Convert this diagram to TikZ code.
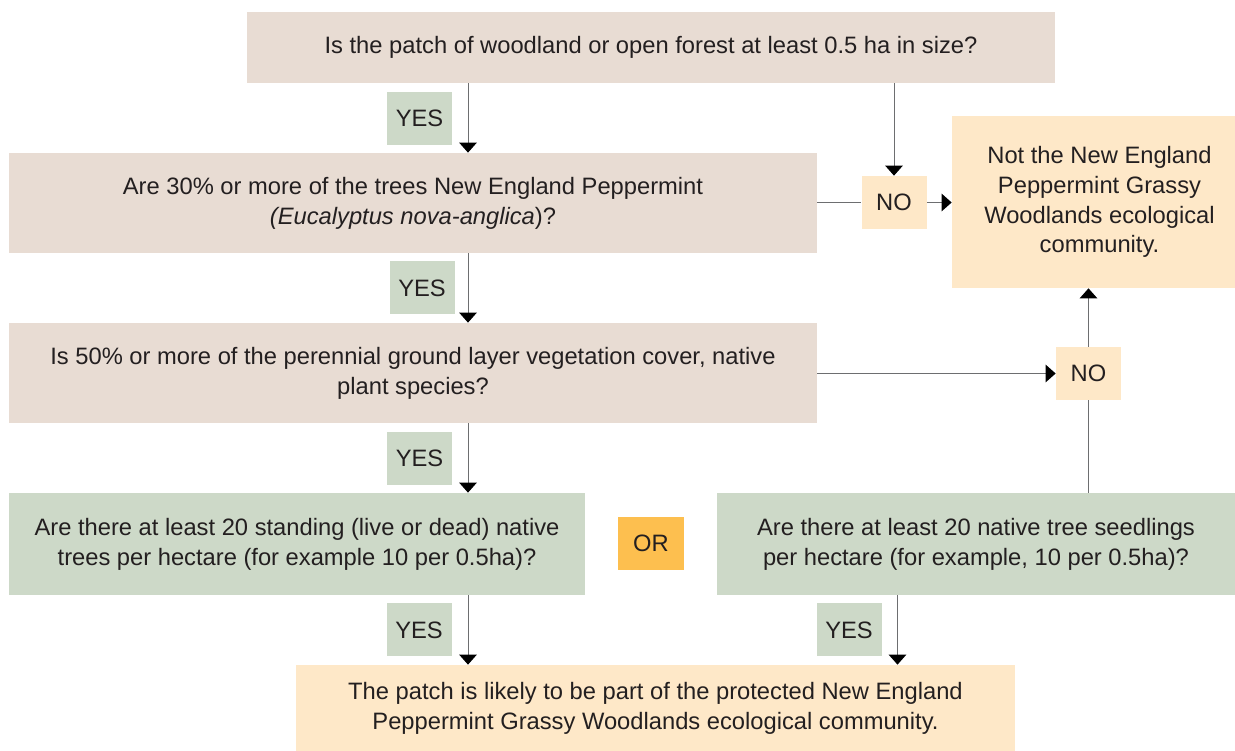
\documentclass[tikz,border=0pt]{standalone}
\usepackage{fontspec}
\setmainfont{Liberation Sans}
\usepackage{tikz}
\usetikzlibrary{positioning, calc, arrows.meta}

\definecolor{qbeige}{HTML}{E8DCD3}
\definecolor{qgreen}{HTML}{CDD9C8}
\definecolor{qcream}{HTML}{FEE8C8}
\definecolor{qorange}{HTML}{FDBF4F}
\definecolor{qline}{HTML}{6D6E70}
\definecolor{qtext}{HTML}{231F20}

\begin{document}
\begin{tikzpicture}[
        every node/.style={rectangle, draw=none, inner sep=0pt, align=center,
            text=qtext, font=\fontsize{13.5}{17}\selectfont},
        question/.style={fill=qbeige, minimum width=16.16cm, minimum height=2cm},
        criterion/.style={fill=qgreen, minimum height=2.04cm},
        result/.style={fill=qcream},
        yes/.style={fill=qgreen, minimum width=1.3cm, minimum height=1.06cm},
        no/.style={fill=qcream, minimum width=1.3cm, minimum height=1.06cm},
        link/.style={draw=qline, line width=0.55pt},
        arr/.style={link, -{Triangle[width=0.35cm, length=0.2cm, color=black]}}
    ]
    \useasboundingbox (0,0) rectangle (24.7,-15.02);

    % Questions
    \node[question, minimum height=1.42cm] (Q1) at (13.02,-0.95)
        {Is the patch of woodland or open forest at least 0.5 ha in size?};
    \node[question] (Q2) at (8.26,-4.06)
        {Are 30\% or more of the trees New England Peppermint\\
         {\itshape (Eucalyptus nova-anglica\/})?};
    \node[question] (Q3) at (8.26,-7.46)
        {Is 50\% or more of the perennial ground layer vegetation cover, native\\
         plant species?};
    \node[criterion, minimum width=11.52cm] (Q4) at (5.94,-10.88)
        {Are there at least 20 standing (live or dead) native\\
         trees per hectare (for example 10 per 0.5ha)?};
    \node[criterion, minimum width=10.36cm] (Q5) at (19.52,-10.88)
        {Are there at least 20 native tree seedlings\\
         per hectare (for example, 10 per 0.5ha)?};
    \node[fill=qorange, minimum width=1.32cm, minimum height=1.06cm] (OR) at (13.02,-10.87) {OR};

    % Outcomes
    \node[result, minimum width=5.66cm, minimum height=3.44cm] (NOT) at (21.87,-4.04)
        {\hspace{0.24cm}Not the New England\\ \hspace{0.24cm}Peppermint Grassy\\
         \hspace{0.24cm}Woodlands ecological\\ \hspace{0.24cm}community.};
    \node[result, minimum width=14.38cm, minimum height=1.72cm] (END) at (13.11,-14.16)
        {The patch is likely to be part of the protected New England\\
         Peppermint Grassy Woodlands ecological community.};

    % Answers
    \node[yes] (Y1) at (8.39,-2.37) {YES};
    \node[yes] (Y2) at (8.44,-5.76) {YES};
    \node[yes] (Y3) at (8.39,-9.17) {YES};
    \node[yes] (Y4) at (8.38,-12.6) {YES};
    \node[yes] (Y5) at (16.98,-12.6) {YES};
    \node[no] (N1) at (17.88,-4.05) {NO};
    \node[no] (N2) at (21.77,-7.47) {NO};

    \coordinate (L) at (9.36,0);
    \coordinate (R) at (17.95,0);

    % Connections
    \draw[arr] (Q1.south -| L) -- (Q2.north -| L);
    \draw[arr] (Q2.south -| L) -- (Q3.north -| L);
    \draw[arr] (Q3.south -| L) -- (Q4.north -| L);
    \draw[arr] (Q4.south -| L) -- (END.north -| L);
    \draw[arr] (Q5.south -| R) -- (END.north -| R);

    \draw[arr] (Q1.south -| N1) -- (N1.north);
    \draw[link] (Q2.east |- N1) -- (N1.west);
    \draw[arr] (N1.east) -- (NOT.west |- N1);

    \draw[arr] (Q3.east |- N2) -- (N2.west);
    \draw[link] (Q5.north -| N2) -- (N2.south);
    \draw[arr] (N2.north) -- (NOT.south -| N2);

\end{tikzpicture}
\end{document}
